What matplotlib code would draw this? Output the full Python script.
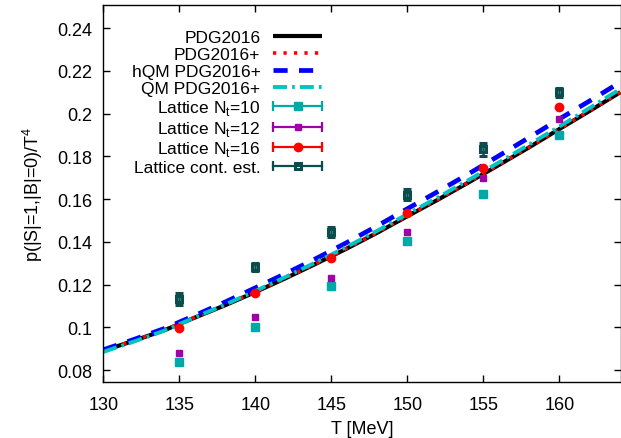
import numpy as np
import matplotlib
matplotlib.use("Agg")
from matplotlib import pyplot as plt
from matplotlib.lines import Line2D
from matplotlib.legend_handler import HandlerLine2D, HandlerTuple

plt.rcParams['font.family'] = ['Liberation Sans', 'DejaVu Sans']
plt.rcParams['mathtext.fontset'] = 'custom'
plt.rcParams['mathtext.rm'] = 'Liberation Sans'

# HRG curves, every 2 MeV
T_curve = [130, 132, 134, 136, 138, 140, 142, 144, 146, 148, 150, 152, 154, 156, 158, 160, 162, 164]
pdg2016 = [0.0890, 0.0937, 0.0986, 0.1045, 0.1103, 0.1165, 0.1230, 0.1298, 0.1368, 0.1442,
           0.1520, 0.1597, 0.1677, 0.1759, 0.1842, 0.1928, 0.2013, 0.2100]
pdg2016_plus = [0.0891, 0.0938, 0.0987, 0.1046, 0.1104, 0.1166, 0.1231, 0.1299, 0.1369, 0.1443,
                0.1521, 0.1598, 0.1678, 0.1760, 0.1843, 0.1929, 0.2014, 0.2101]
hqm_pdg2016_plus = [0.0895, 0.0943, 0.0994, 0.1055, 0.1118, 0.1185, 0.1252, 0.1322, 0.1396, 0.1474,
                    0.1555, 0.1635, 0.1717, 0.1802, 0.1888, 0.1975, 0.2060, 0.2147]
qm_pdg2016_plus = [0.0885, 0.0933, 0.0984, 0.1046, 0.1106, 0.1170, 0.1236, 0.1305, 0.1376, 0.1451,
                   0.1530, 0.1608, 0.1688, 0.1771, 0.1855, 0.1940, 0.2027, 0.2115]

# lattice data
T_lat = [135, 140, 145, 150, 155, 160]
nt10 = [0.0839, 0.1003, 0.1192, 0.1402, 0.1624, 0.1900]
nt10_err = [0.0005, 0.0005, 0.0005, 0.0006, 0.0006, 0.0007]
nt12 = [0.0880, 0.1049, 0.1231, 0.1444, 0.1697, 0.1973]
nt12_err = [0.0005, 0.0005, 0.0005, 0.0006, 0.0006, 0.0007]
nt16 = [0.0997, 0.1159, 0.1323, 0.1535, 0.1744, 0.2032]
nt16_err = [0.0006, 0.0006, 0.0006, 0.0007, 0.0007, 0.0008]
cont = [0.1132, 0.1283, 0.1446, 0.1620, 0.1834, 0.2100]
cont_err = [0.0028, 0.0020, 0.0022, 0.0025, 0.0030, 0.0022]

c_nt10 = '#00a8a8'
c_nt12 = '#a000a8'
c_nt16 = '#ff0000'
c_cont = '#0a4d4d'
c_qm = '#00c4c4'
FS = 12.5

fig = plt.figure(figsize=(6.21, 4.39), dpi=100)
ax = fig.add_axes([0.1664, 0.128, 0.8336, 0.8582])

l_pdg, = ax.plot(T_curve, pdg2016, color='black', lw=3.0, solid_capstyle='butt')
l_pdgp, = ax.plot(T_curve, pdg2016_plus, color='red', lw=2.6, linestyle=(0, (0.9, 2.0)))
l_hqm, = ax.plot(T_curve, hqm_pdg2016_plus, color='#0000ff', lw=3.4, linestyle=(0, (3.0, 2.4)))
l_qm, = ax.plot(T_curve, qm_pdg2016_plus, color=c_qm, lw=2.8, linestyle=(0, (3.6, 1.3, 0.7, 1.3)))

ax.errorbar(T_lat, nt10, yerr=nt10_err, fmt='s', color=c_nt10, ms=5.5, capsize=2, elinewidth=1.2)
ax.errorbar(T_lat, nt12, yerr=nt12_err, fmt='s', color=c_nt12, ms=4.0, capsize=2, elinewidth=1.2)
ax.errorbar(T_lat, nt16, yerr=nt16_err, fmt='o', color=c_nt16, ms=6.0, capsize=2, elinewidth=1.2)
ax.errorbar(T_lat, cont, yerr=cont_err, fmt='s', color=c_cont, mfc='none', mew=2.2, ms=4.8,
            capsize=3, elinewidth=1.8, capthick=1.6)

ax.set_xlim(130, 164.05)
ax.set_ylim(0.0745, 0.2508)
ax.set_xticks([130, 135, 140, 145, 150, 155, 160])
ax.set_yticks([0.08, 0.1, 0.12, 0.14, 0.16, 0.18, 0.2, 0.22, 0.24])
ax.set_yticklabels(['0.08', '0.1', '0.12', '0.14', '0.16', '0.18', '0.2', '0.22', '0.24'])
ax.tick_params(direction='in', length=5, width=1, top=True, right=True, labelsize=13, pad=8)
ax.tick_params(axis='x', pad=10)
for s in ax.spines.values():
    s.set_linewidth(1.0)

ax.set_xlabel('T [MeV]', fontsize=13, labelpad=5)
ax.set_ylabel(r'p(|S|=1,|B|=0)/T$^{4}$', fontsize=13, labelpad=9)


def err_handle(color, marker, ms, mfc=None, mew=1.0):
    bar = Line2D([0], [0], color=color, lw=1.6, marker='|', ms=7, mew=1.6)
    pt = Line2D([0], [0], color=color, lw=0, marker=marker, ms=ms,
                mfc=color if mfc is None else mfc, mew=mew)
    return (bar, pt)


h10 = err_handle(c_nt10, 's', 5.5)
h12 = err_handle(c_nt12, 's', 4.0)
h16 = err_handle(c_nt16, 'o', 6.0)
hc = err_handle(c_cont, 's', 4.8, mfc='none', mew=2.2)

hmap = {}
for h in (h10, h12, h16, hc):
    hmap[h[0]] = HandlerLine2D(numpoints=2, marker_pad=0)
    hmap[h[1]] = HandlerLine2D(numpoints=1)
hmap[tuple] = HandlerTuple(ndivide=1, pad=0)

handles = [l_pdg, l_pdgp, l_hqm, l_qm, h10, h12, h16, hc]
labels = ['PDG2016', 'PDG2016+', 'hQM PDG2016+', 'QM PDG2016+',
          r'Lattice N$_\mathregular{t}$=10', r'Lattice N$_\mathregular{t}$=12',
          r'Lattice N$_\mathregular{t}$=16', 'Lattice cont. est.']
ax.legend(handles, labels, handler_map=hmap, loc='upper right', bbox_to_anchor=(0.4225, 0.933),
          frameon=False, markerfirst=False, fontsize=FS, handlelength=2.8, handletextpad=0.75,
          labelspacing=0.1, borderpad=0, borderaxespad=0)

fig.savefig('out.png', dpi=100)
